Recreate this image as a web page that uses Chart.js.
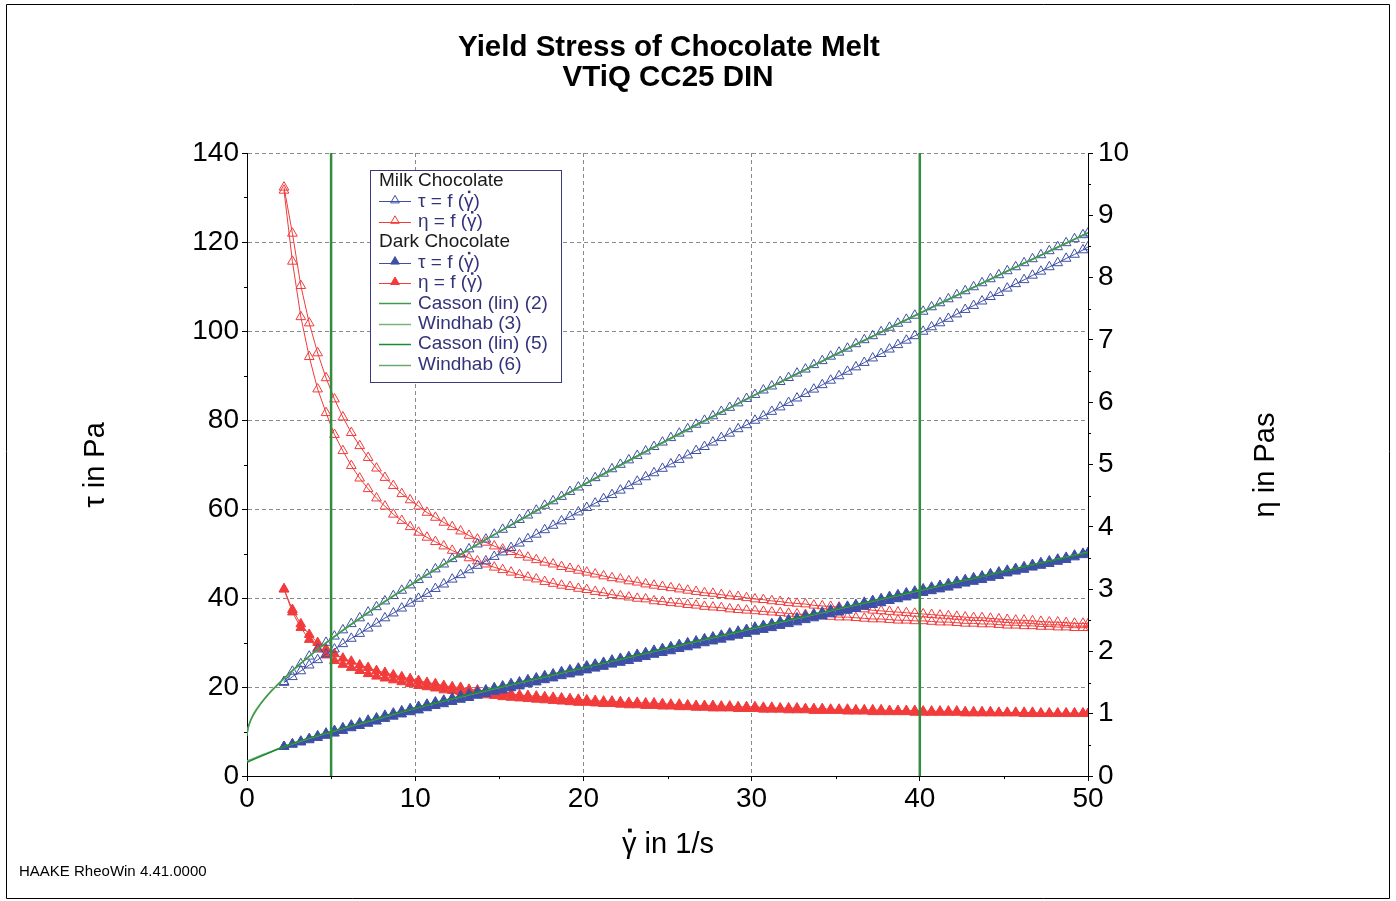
<!DOCTYPE html>
<html><head><meta charset="utf-8">
<script src="https://cdn.jsdelivr.net/npm/chart.js@4.4.0/dist/chart.umd.min.js"></script>
<style>html,body{margin:0;padding:0;background:#fff;}#wrap{width:1396px;height:901px;position:relative;overflow:hidden;}</style>
</head><body><div id="wrap"><canvas id="c" width="1396" height="901"></canvas></div>
<script>
// ---------- DATA ----------
const shearRate = [2.2,2.7,3.2,3.7,4.2,4.7,5.2,5.7,6.2,6.7,7.2,7.7,8.2,8.7,9.2,9.7,10.2,10.7,11.2,11.7,12.2,12.7,13.2,13.7,14.2,14.7,15.2,15.7,16.2,16.7,17.2,17.7,18.2,18.7,19.2,19.7,20.2,20.7,21.2,21.7,22.2,22.7,23.2,23.7,24.2,24.7,25.2,25.7,26.2,26.7,27.2,27.7,28.2,28.7,29.2,29.7,30.2,30.7,31.2,31.7,32.2,32.7,33.2,33.7,34.2,34.7,35.2,35.7,36.2,36.7,37.2,37.7,38.2,38.7,39.2,39.7,40.2,40.7,41.2,41.7,42.2,42.7,43.2,43.7,44.2,44.7,45.2,45.7,46.2,46.7,47.2,47.7,48.2,48.7,49.2,49.7,50.0];

const milkTauUp = [21.2,23.5,25.2,26.9,28.5,30.0,31.4,32.8,34.2,35.5,36.8,38.0,39.3,40.5,41.7,42.9,44.1,45.3,46.5,47.6,48.8,49.9,51.0,52.1,53.2,54.3,55.4,56.5,57.6,58.6,59.7,60.8,61.8,62.8,63.9,64.9,65.9,67.0,68.0,69.0,70.0,71.0,72.0,73.0,74.0,75.0,76.0,77.0,78.0,79.0,79.9,80.9,81.9,82.8,83.8,84.8,85.7,86.7,87.6,88.6,89.5,90.5,91.4,92.4,93.3,94.3,95.2,96.1,97.1,98.0,98.9,99.8,100.8,101.7,102.6,103.5,104.4,105.4,106.3,107.2,108.1,109.0,109.9,110.8,111.7,112.6,113.5,114.4,115.3,116.2,117.1,118.0,118.9,119.8,120.7,121.6,122.0];
const milkTauDown = [21.0,22.3,23.6,24.9,26.1,27.4,28.5,29.7,30.9,32.0,33.2,34.3,35.5,36.6,37.7,38.8,39.9,41.0,42.1,43.1,44.2,45.2,46.3,47.3,48.3,49.3,50.3,51.3,52.3,53.3,54.3,55.3,56.3,57.3,58.3,59.3,60.3,61.3,62.3,63.2,64.2,65.2,66.2,67.2,68.1,69.1,70.1,71.1,72.1,73.1,74.0,75.0,76.0,77.0,78.0,78.9,79.9,80.9,81.9,82.9,83.9,84.9,85.9,86.9,87.9,88.9,89.9,90.9,91.9,92.9,93.9,94.9,95.9,96.9,97.9,98.9,99.9,100.9,101.8,102.8,103.8,104.8,105.7,106.7,107.7,108.6,109.6,110.6,111.5,112.5,113.4,114.4,115.3,116.3,117.2,118.2,118.9];
const milkEtaUp = [9.45,8.71,7.87,7.27,6.79,6.39,6.05,5.76,5.51,5.30,5.11,4.94,4.79,4.66,4.53,4.43,4.33,4.23,4.15,4.07,4.00,3.93,3.86,3.80,3.75,3.69,3.64,3.60,3.55,3.51,3.47,3.43,3.40,3.36,3.33,3.30,3.27,3.24,3.21,3.18,3.16,3.13,3.11,3.08,3.06,3.04,3.02,3.00,2.98,2.96,2.94,2.93,2.91,2.89,2.88,2.86,2.84,2.83,2.81,2.80,2.78,2.77,2.76,2.74,2.73,2.72,2.71,2.70,2.69,2.68,2.66,2.65,2.64,2.63,2.62,2.61,2.60,2.59,2.58,2.57,2.56,2.55,2.54,2.54,2.53,2.52,2.51,2.50,2.50,2.49,2.48,2.47,2.47,2.46,2.45,2.45,2.44];
const milkEtaDown = [9.40,8.26,7.37,6.73,6.21,5.83,5.48,5.22,4.98,4.78,4.61,4.46,4.33,4.20,4.10,4.00,3.91,3.83,3.76,3.69,3.62,3.56,3.50,3.45,3.40,3.35,3.31,3.27,3.23,3.19,3.16,3.12,3.09,3.06,3.04,3.01,2.99,2.96,2.94,2.91,2.89,2.87,2.85,2.84,2.81,2.80,2.78,2.77,2.75,2.74,2.72,2.71,2.70,2.68,2.67,2.66,2.65,2.64,2.63,2.62,2.61,2.60,2.59,2.58,2.57,2.56,2.55,2.55,2.54,2.53,2.52,2.52,2.51,2.50,2.50,2.49,2.49,2.48,2.47,2.47,2.46,2.45,2.45,2.44,2.44,2.43,2.42,2.42,2.41,2.41,2.40,2.40,2.39,2.39,2.38,2.38,2.38];

const darkTauUp = [6.6,7.2,7.8,8.4,9.0,9.6,10.2,10.8,11.4,11.9,12.5,13.0,13.6,14.1,14.6,15.1,15.6,16.1,16.6,17.0,17.5,18.0,18.4,18.9,19.3,19.8,20.2,20.7,21.1,21.6,22.0,22.5,22.9,23.4,23.8,24.2,24.7,25.1,25.5,26.0,26.4,26.8,27.3,27.7,28.2,28.6,29.0,29.5,29.9,30.3,30.8,31.2,31.6,32.1,32.5,32.9,33.4,33.8,34.2,34.7,35.1,35.5,36.0,36.4,36.8,37.3,37.7,38.1,38.5,39.0,39.4,39.8,40.3,40.7,41.1,41.5,42.0,42.4,42.8,43.2,43.7,44.1,44.5,44.9,45.4,45.8,46.2,46.6,47.0,47.5,47.9,48.3,48.7,49.1,49.6,50.0,50.2];
const darkTauDown = [6.6,7.1,7.6,8.1,8.6,9.1,9.6,10.2,10.8,11.3,11.8,12.3,12.9,13.4,13.9,14.4,14.8,15.3,15.8,16.2,16.7,17.2,17.6,18.1,18.5,19.0,19.3,19.8,20.2,20.7,21.1,21.6,22.0,22.5,22.9,23.3,23.8,24.2,24.6,25.1,25.5,25.9,26.4,26.8,27.3,27.7,28.1,28.6,29.0,29.4,29.9,30.3,30.7,31.2,31.6,32.0,32.5,32.9,33.3,33.8,34.2,34.6,35.1,35.5,35.9,36.4,36.8,37.2,37.6,38.1,38.5,38.9,39.4,39.8,40.2,40.6,41.2,41.6,42.0,42.4,42.9,43.3,43.7,44.1,44.6,45.0,45.6,46.0,46.4,46.9,47.3,47.7,48.2,48.6,49.2,49.7,50.0];
const darkEtaUp = [3.00,2.67,2.44,2.27,2.14,2.04,1.96,1.89,1.84,1.78,1.74,1.69,1.66,1.62,1.59,1.56,1.53,1.50,1.48,1.45,1.43,1.42,1.39,1.38,1.36,1.35,1.33,1.32,1.30,1.29,1.28,1.27,1.26,1.25,1.24,1.23,1.22,1.21,1.20,1.20,1.19,1.18,1.18,1.17,1.17,1.16,1.15,1.15,1.14,1.13,1.13,1.13,1.12,1.12,1.11,1.11,1.11,1.10,1.10,1.09,1.09,1.09,1.08,1.08,1.08,1.07,1.07,1.07,1.06,1.06,1.06,1.06,1.05,1.05,1.05,1.05,1.04,1.04,1.04,1.04,1.04,1.03,1.03,1.03,1.03,1.02,1.02,1.02,1.02,1.02,1.01,1.01,1.01,1.01,1.01,1.01,1.00];
const darkEtaDown = [3.00,2.63,2.38,2.19,2.05,1.94,1.85,1.79,1.74,1.69,1.64,1.60,1.57,1.54,1.51,1.48,1.45,1.43,1.41,1.38,1.37,1.35,1.33,1.32,1.30,1.29,1.27,1.26,1.25,1.24,1.23,1.22,1.21,1.20,1.19,1.18,1.18,1.17,1.16,1.16,1.15,1.14,1.14,1.13,1.13,1.12,1.12,1.11,1.11,1.10,1.10,1.09,1.09,1.09,1.08,1.08,1.08,1.07,1.07,1.07,1.06,1.06,1.06,1.05,1.05,1.05,1.05,1.04,1.04,1.04,1.03,1.03,1.03,1.03,1.03,1.02,1.02,1.02,1.02,1.02,1.02,1.01,1.01,1.01,1.01,1.01,1.01,1.01,1.00,1.00,1.00,1.00,1.00,1.00,1.00,1.00,1.00];

const milkFitRate = [0,0.05,0.1,0.2,0.35,0.5,0.75,1,1.5,2,2.5,3,4,5,6,8,10,12.5,15,17.5,20,25,30,35,40,45,50];
const cassonMilk = [9.0,10.59,11.29,12.31,13.49,14.48,15.88,17.12,19.30,21.25,23.03,24.71,27.84,30.74,33.50,38.67,43.58,49.33,54.87,60.23,65.45,75.52,85.25,94.72,103.99,113.08,122.03];
const windhabMilk = [9.5,10.4,11.2,12.4,13.7,14.7,16.0,17.2,19.3,21.1,22.9,24.6,27.8,30.8,33.6,38.8,43.7,49.4,54.9,60.2,65.4,75.4,85.2,94.7,104.0,113.1,122.1];
const darkFitRate = [0,0.5,1,1.5,2,3,4,5,6,8,10,12.5,15,17.5,20,25,30,35,40,45,50];
const cassonDark = [3.1,3.9,4.7,5.5,6.3,7.7,8.9,10.0,11.1,13.2,15.3,17.7,20.0,22.2,24.4,28.8,33.2,37.5,41.8,46.0,50.2];
const windhabDark = [3.4,4.1,4.9,5.6,6.3,7.6,8.8,9.9,11.0,13.1,15.2,17.6,19.9,22.1,24.3,28.7,33.1,37.4,41.7,46.0,50.3];

const fitLimits = [5, 40];

const tauTicks = [0,20,40,60,80,100,120,140];
const etaTicks = [0,1,2,3,4,5,6,7,8,9,10];
const rateTicks = [0,10,20,30,40,50];

const titleLines = ['Yield Stress of Chocolate Melt', 'VTiQ CC25 DIN'];
const axisTitles = {x: '\u03B3\u0307 in 1/s', y: '\u03C4 in Pa', y2: '\u03B7 in Pas'};
const footer = 'HAAKE RheoWin 4.41.0000';
const legendRows = [
  {head:'Milk Chocolate'},
  {text:'\u03C4 = f (\u03B3\u0307)', color:'blue', filled:false},
  {text:'\u03B7 = f (\u03B3\u0307)', color:'red', filled:false},
  {head:'Dark Chocolate'},
  {text:'\u03C4 = f (\u03B3\u0307)', color:'blue', filled:true},
  {text:'\u03B7 = f (\u03B3\u0307)', color:'red', filled:true},
  {text:'Casson (lin) (2)', color:'g1'},
  {text:'Windhab (3)', color:'g2'},
  {text:'Casson (lin) (5)', color:'g3'},
  {text:'Windhab (6)', color:'g4'}
];

// ---------- STYLE ----------
const FONT = '"Liberation Sans", Arial, Helvetica, sans-serif';
const COL = {blue:'#3d4fa6', red:'#f23b3b', g1:'#3f9a4c', g2:'#76b47a', g3:'#1e8a30', g4:'#6aa96f', vline:'#338c40'};
const pts = (xs, ys) => xs.map((x, i) => ({x: x, y: ys[i]}));
const MR = 5.6;

function series(data, axis, color, filled, order) {
  return {data: data, yAxisID: axis, borderColor: color, borderWidth: 1, fill: false,
    pointStyle: 'triangle', pointRadius: MR, pointHoverRadius: MR,
    pointBackgroundColor: filled ? color : 'rgba(0,0,0,0)', pointBorderColor: color, pointBorderWidth: 1,
    tension: 0, order: order};
}
function fitLine(xs, ys, color, order) {
  return {data: pts(xs, ys), yAxisID: 'y', borderColor: color, borderWidth: 1.5, pointRadius: 0,
    fill: false, cubicInterpolationMode: 'monotone', order: order};
}

const datasets = [
  series(pts(shearRate, milkEtaDown), 'y2', COL.red, false, 9),
  series(pts(shearRate, milkEtaUp), 'y2', COL.red, false, 9),
  series(pts(shearRate, darkEtaDown), 'y2', COL.red, true, 8),
  series(pts(shearRate, darkEtaUp), 'y2', COL.red, true, 8),
  series(pts(shearRate, milkTauDown), 'y', COL.blue, false, 7),
  series(pts(shearRate, milkTauUp), 'y', COL.blue, false, 7),
  series(pts(shearRate, darkTauDown), 'y', COL.blue, true, 6),
  series(pts(shearRate, darkTauUp), 'y', COL.blue, true, 6),
  fitLine(milkFitRate, windhabMilk, COL.g2, 3),
  fitLine(milkFitRate, cassonMilk, COL.g1, 2),
  fitLine(darkFitRate, windhabDark, COL.g4, 3),
  fitLine(darkFitRate, cassonDark, COL.g3, 2)
];
fitLimits.forEach(v => datasets.push({data: [{x: v, y: tauTicks[0]}, {x: v, y: tauTicks[tauTicks.length-1]}],
  yAxisID: 'y', borderColor: COL.vline, borderWidth: 2.5, pointRadius: 0, fill: false, order: 0}));

const gridCol = (edgeVals) => (ctx) => (ctx.tick && edgeVals.includes(ctx.tick.value)) ? 'rgba(0,0,0,0)' : '#8a8a8a';

function drawTri(ctx, x, y, r, color, filled) {
  ctx.beginPath();
  ctx.moveTo(x, y - r);
  ctx.lineTo(x + r * 0.866, y + r * 0.5);
  ctx.lineTo(x - r * 0.866, y + r * 0.5);
  ctx.closePath();
  if (filled) { ctx.fillStyle = color; ctx.fill(); }
  ctx.strokeStyle = color; ctx.lineWidth = 1; ctx.stroke();
}

// draws text (textBaseline 'middle'); a combining dot (U+0307) is drawn as a small square above its base char
function dotText(ctx, text, x, y, size, align) {
  const k = text.indexOf('\u0307');
  const plain = text.replace('\u0307', '');
  const w = ctx.measureText(plain).width;
  const x0 = align === 'center' ? x - w / 2 : x;
  ctx.textAlign = 'left';
  ctx.fillText(plain, x0, y);
  if (k > 0) {
    const pre = ctx.measureText(plain.slice(0, k - 1)).width;
    const cw = ctx.measureText(plain.charAt(k - 1)).width;
    const d = Math.max(2, size * 0.13);
    ctx.fillRect(x0 + pre + cw / 2 - d / 2 + size * 0.02, y - size * 0.5 - d / 2, d, d);
  }
}

const deco = {
  id: 'deco',
  beforeDraw(chart) {
    const ctx = chart.ctx;
    ctx.save();
    ctx.fillStyle = '#fff'; ctx.fillRect(0, 0, chart.width, chart.height);
    ctx.strokeStyle = '#000'; ctx.lineWidth = 1;
    ctx.beginPath();
    ctx.moveTo(6.5, 4.5); ctx.lineTo(1389.5, 4.5); ctx.lineTo(1389.5, 898.5); ctx.lineTo(6.5, 898.5); ctx.closePath();
    ctx.stroke();
    ctx.restore();
  },
  afterDraw(chart) {
    const ctx = chart.ctx, a = chart.chartArea;
    const sx = chart.scales.x, sy = chart.scales.y, sy2 = chart.scales.y2;
    ctx.save();
    // minor ticks
    ctx.strokeStyle = '#000'; ctx.lineWidth = 1;
    ctx.beginPath();
    for (let i = 0; i < tauTicks.length - 1; i++) {
      const v = (tauTicks[i] + tauTicks[i+1]) / 2, p = Math.round(sy.getPixelForValue(v)) + 0.5;
      ctx.moveTo(a.left - 3, p); ctx.lineTo(a.left, p);
    }
    for (let i = 0; i < etaTicks.length - 1; i++) {
      const v = (etaTicks[i] + etaTicks[i+1]) / 2, p = Math.round(sy2.getPixelForValue(v)) + 0.5;
      ctx.moveTo(a.right, p); ctx.lineTo(a.right + 3, p);
    }
    for (let i = 0; i < rateTicks.length - 1; i++) {
      const v = (rateTicks[i] + rateTicks[i+1]) / 2, p = Math.round(sx.getPixelForValue(v)) + 0.5;
      ctx.moveTo(p, a.bottom); ctx.lineTo(p, a.bottom + 3);
    }
    ctx.stroke();

    // titles
    ctx.fillStyle = '#000';
    ctx.textAlign = 'center'; ctx.textBaseline = 'middle';
    ctx.font = 'bold 29.5px ' + FONT;
    ctx.fillText(titleLines[0], 669, 48);
    ctx.fillText(titleLines[1], 668, 78);

    // axis titles
    ctx.font = '29px ' + FONT;
    dotText(ctx, axisTitles.x, 668, 845, 29, 'center');
    ctx.textAlign = 'center';
    ctx.save(); ctx.translate(96, 465); ctx.rotate(-Math.PI / 2); ctx.fillText(axisTitles.y, 0, 0); ctx.restore();
    ctx.save(); ctx.translate(1266, 465); ctx.rotate(-Math.PI / 2); ctx.fillText(axisTitles.y2, 0, 0); ctx.restore();

    // footer
    ctx.textAlign = 'left';
    ctx.font = '15px ' + FONT;
    ctx.fillText(footer, 19, 872);

    // legend
    const bx = 370.5, by = 170.5, bw = 191, bh = 212;
    ctx.fillStyle = '#fff'; ctx.fillRect(bx, by, bw, bh);
    ctx.strokeStyle = '#3a3a7c'; ctx.lineWidth = 1; ctx.strokeRect(bx, by, bw, bh);
    ctx.font = '19px ' + FONT; ctx.textBaseline = 'middle'; ctx.textAlign = 'left';
    legendRows.forEach((r, i) => {
      const y = 181 + i * 20.4;
      if (r.head) { ctx.fillStyle = '#1a1a1a'; ctx.fillText(r.head, 379, y); return; }
      const c = COL[r.color];
      ctx.strokeStyle = c; ctx.lineWidth = r.filled === undefined ? 1.5 : 1;
      ctx.beginPath(); ctx.moveTo(379, Math.round(y) + 0.5); ctx.lineTo(411, Math.round(y) + 0.5); ctx.stroke();
      if (r.filled !== undefined) drawTri(ctx, 395, y - 1, 5, c, r.filled);
      ctx.fillStyle = '#33337a'; dotText(ctx, r.text, 418, y, 19, 'left');
    });
    ctx.restore();
  }
};

new Chart(document.getElementById('c'), {
  type: 'line',
  data: {datasets: datasets},
  plugins: [deco],
  options: {
    responsive: false, animation: false, devicePixelRatio: 1,
    layout: {padding: {top: 153, left: 0, right: 0, bottom: 0}},
    plugins: {legend: {display: false}, tooltip: {enabled: false}, title: {display: false}},
    elements: {line: {borderJoinStyle: 'round'}},
    scales: {
      x: {type: 'linear', position: 'bottom', min: rateTicks[0], max: rateTicks[rateTicks.length-1],
        afterBuildTicks: s => { s.ticks = rateTicks.map(v => ({value: v})); },
        ticks: {color: '#000', font: {family: FONT, size: 28}, padding: 1, maxRotation: 0, autoSkip: false},
        grid: {color: gridCol([0, 50]), lineWidth: 1, tickColor: '#000', tickLength: 5, tickBorderDash: []},
        border: {display: true, color: '#000', width: 1, dash: [4, 3]},
        afterFit: s => { s.height = 125; }},
      y: {type: 'linear', position: 'left', min: tauTicks[0], max: tauTicks[tauTicks.length-1],
        afterBuildTicks: s => { s.ticks = tauTicks.map(v => ({value: v})); },
        ticks: {color: '#000', font: {family: FONT, size: 28}, padding: 3, autoSkip: false},
        grid: {color: gridCol([0]), lineWidth: 1, tickColor: '#000', tickLength: 5, tickBorderDash: []},
        border: {display: true, color: '#000', width: 1, dash: [4, 3]},
        afterFit: s => { s.width = 247; }},
      y2: {type: 'linear', position: 'right', min: etaTicks[0], max: etaTicks[etaTicks.length-1],
        afterBuildTicks: s => { s.ticks = etaTicks.map(v => ({value: v})); },
        ticks: {color: '#000', font: {family: FONT, size: 28}, padding: 5, autoSkip: false},
        grid: {drawOnChartArea: false, color: '#000', tickColor: '#000', tickLength: 5, tickBorderDash: []},
        border: {display: true, color: '#000', width: 1},
        afterFit: s => { s.width = 308; }}
    }
  }
});
</script>
</body></html>
